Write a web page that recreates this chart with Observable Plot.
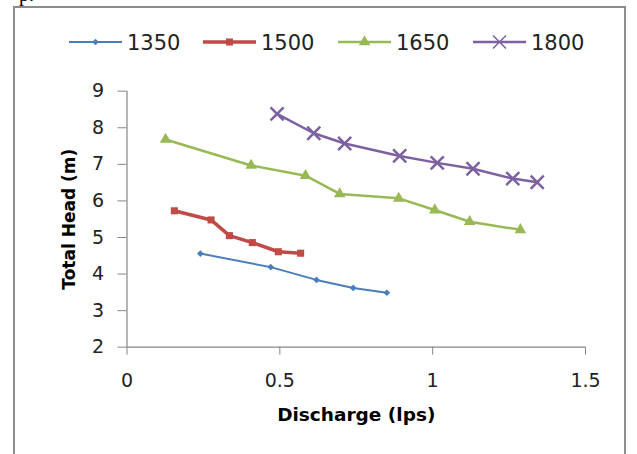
<!DOCTYPE html>
<html>
<head>
<meta charset="utf-8">
<script src="https://cdn.jsdelivr.net/npm/d3@7"></script>
<script src="https://cdn.jsdelivr.net/npm/@observablehq/plot@0.6"></script>
<style>
  html, body { margin: 0; padding: 0; background: #fff; overflow: hidden; }
  #wrap { position: relative; width: 637px; height: 454px; overflow: hidden; }
  #border { position: absolute; left: 13px; top: 6px; width: 613px; height: 470px; border: 2px solid #8c8c8c; box-sizing: border-box; }
  #frag { position: absolute; left: 19px; top: -16px; font: 20px/1 "Liberation Serif", serif; color: #000; }
  #chart { position: absolute; left: 0; top: 0; }
  #legend { position: absolute; left: 0; top: 0; }
</style>
</head>
<body>
<div id="wrap">
  <div id="frag">p.</div>
  <div id="border"></div>
  <div id="chart"></div>
  <svg id="legend" width="637" height="70"></svg>
</div>
<script>
// ---- data ----
const seriesNames = ["1350", "1500", "1650", "1800"];
const seriesColors = ["#4A7EBB", "#BE4B48", "#98B954", "#7D60A0"];
const seriesSymbols = ["diamond2", "square", "triangle", "times"];

const x1350 = [0.24, 0.47, 0.62, 0.74, 0.85];
const y1350 = [4.56, 4.19, 3.84, 3.62, 3.49];

const x1500 = [0.155, 0.275, 0.335, 0.41, 0.495, 0.568];
const y1500 = [5.73, 5.48, 5.05, 4.86, 4.61, 4.57];

const x1650 = [0.126, 0.406, 0.584, 0.696, 0.889, 1.007, 1.121, 1.287];
const y1650 = [7.68, 6.97, 6.69, 6.19, 6.07, 5.75, 5.43, 5.21];

const x1800 = [0.491, 0.611, 0.712, 0.892, 1.015, 1.132, 1.262, 1.342];
const y1800 = [8.38, 7.85, 7.57, 7.23, 7.04, 6.88, 6.61, 6.51];

const xTicks = [0, 0.5, 1, 1.5];
const yTicks = [2, 3, 4, 5, 6, 7, 8, 9];
const xLabel = "Discharge (lps)";
const yLabel = "Total Head (m)";

// ---- build table ----
const xs = [x1350, x1500, x1650, x1800];
const ys = [y1350, y1500, y1650, y1800];
const data = [];
seriesNames.forEach((s, i) => xs[i].forEach((x, j) => data.push({series: s, x, y: ys[i][j]})));

const widths = {"1350": 2, "1500": 3.5, "1650": 2.5, "1800": 2.5};
const radii = {"1350": 3, "1500": 4, "1650": 4.3, "1800": 6};

const axisColor = "#868686";
const font = "DejaVu Sans, sans-serif";

const marks = [];
seriesNames.forEach((s, i) => {
  const d = data.filter(r => r.series === s);
  marks.push(Plot.line(d, {x: "x", y: "y", stroke: seriesColors[i], strokeWidth: widths[s]}));
  if (seriesSymbols[i] === "times") {
    marks.push(Plot.dot(d, {x: "x", y: "y", symbol: "times", r: radii[s], stroke: seriesColors[i], strokeWidth: 2.5}));
  } else {
    marks.push(Plot.dot(d, {x: "x", y: "y", symbol: seriesSymbols[i], r: radii[s], fill: seriesColors[i], stroke: "none"}));
  }
});

const chart = Plot.plot({
  width: 637,
  height: 454,
  marginLeft: 126.5,
  marginRight: 52,
  marginTop: 90.7,
  marginBottom: 107.3,
  style: {fontFamily: font, background: "transparent", overflow: "visible"},
  x: {domain: [0, 1.5]},
  y: {domain: [2, 9]},
  marks: [
    Plot.axisX(xTicks, {tickSize: 8, tickPadding: 18, stroke: axisColor, strokeOpacity: 1, fill: "#222", fontSize: 19, tickFormat: d => String(d), label: null}),
    Plot.axisY(yTicks, {tickSize: 9, tickPadding: 14, stroke: axisColor, strokeOpacity: 1, fill: "#222", fontSize: 19, tickFormat: d => String(d), label: null}),
    Plot.ruleY([2], {stroke: axisColor, strokeWidth: 1.2}),
    Plot.ruleX([0], {stroke: axisColor, strokeWidth: 1.2}),
    ...marks,
    Plot.text([xLabel], {frameAnchor: "bottom", text: d => d, dy: 68.2, fontSize: 18.5, fontWeight: "bold", fill: "#000", lineAnchor: "middle", textAnchor: "middle"}),
    Plot.text([yLabel], {frameAnchor: "left", text: d => d, dx: -57.3, rotate: -90, fontSize: 17, fontWeight: "bold", fill: "#000", lineAnchor: "middle", textAnchor: "middle"})
  ]
});
document.getElementById("chart").appendChild(chart);

// ---- legend ----
const legX = [69, 203, 338, 473];
const leg = d3.select("#legend");
const symMap = {diamond2: d3.symbolDiamond2, square: d3.symbolSquare, triangle: d3.symbolTriangle, times: d3.symbolTimes};
seriesNames.forEach((s, i) => {
  const g = leg.append("g").attr("transform", `translate(${legX[i]},42)`);
  g.append("line").attr("x1", 0).attr("x2", 53).attr("y1", 0).attr("y2", 0)
    .attr("stroke", seriesColors[i]).attr("stroke-width", widths[s]);
  const r = radii[s];
  const p = g.append("path").attr("transform", "translate(26.5,0)")
    .attr("d", d3.symbol(symMap[seriesSymbols[i]], Math.PI * r * r)());
  if (seriesSymbols[i] === "times") p.attr("fill", "none").attr("stroke", seriesColors[i]).attr("stroke-width", 1.5);
  else p.attr("fill", seriesColors[i]);
  g.append("text").attr("x", 58).attr("y", 8).attr("font-family", font).attr("font-size", 21)
    .attr("fill", "#222").text(s);
});
</script>
</body>
</html>
